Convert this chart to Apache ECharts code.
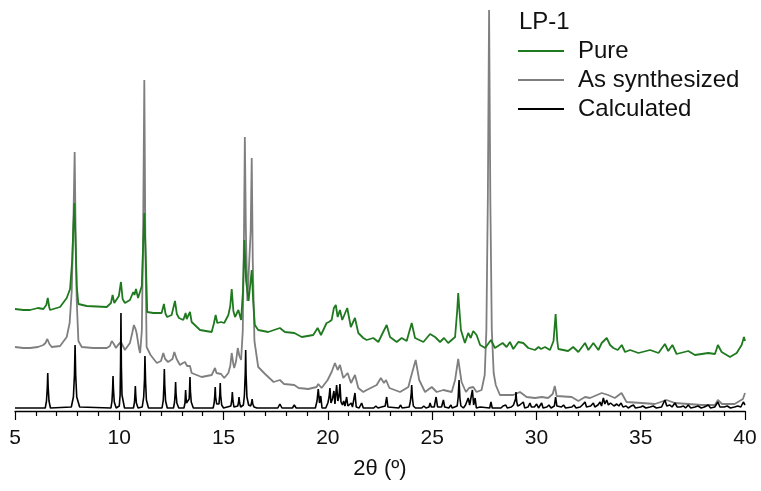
<!DOCTYPE html>
<html>
<head>
<meta charset="utf-8">
<title>LP-1 PXRD</title>
<script src="https://cdn.jsdelivr.net/npm/echarts@6/dist/echarts.min.js"></script>
<style>
  html, body { margin: 0; padding: 0; background: #fff; }
  #chart { width: 761px; height: 491px; }
</style>
</head>
<body>
<div id="chart"></div>
<script>
// 2theta (deg), intensity (arbitrary, offset stacked)
const xTicks = [5, 10, 15, 20, 25, 30, 35, 40]
const seriesNames = ['Pure', 'As synthesized', 'Calculated']

const calculated = [
  [5, 3], [6.45, 3], [6.51, 10], [6.55, 24], [6.57, 38], [6.59, 24], [6.63, 10], [6.7, 3],
  [7.7, 4], [7.8, 14], [7.85, 36], [7.88, 66], [7.91, 36], [7.96, 14], [8.1, 4],
  [9.6, 3], [9.65, 10], [9.68, 22], [9.7, 35], [9.72, 22], [9.76, 9], [9.85, 3],
  [10.0, 5], [10.04, 16], [10.06, 45], [10.08, 98], [10.1, 45], [10.13, 16], [10.25, 3],
  [10.68, 3], [10.73, 9], [10.75, 16], [10.77, 25], [10.79, 16], [10.82, 8], [10.9, 3],
  [11.1, 4], [11.17, 14], [11.21, 32], [11.23, 55], [11.26, 30], [11.3, 11], [11.4, 3],
  [12.05, 3], [12.11, 11], [12.14, 26], [12.16, 42], [12.18, 26], [12.22, 10], [12.3, 3],
  [12.6, 3], [12.65, 9], [12.68, 18], [12.7, 29], [12.72, 18], [12.76, 8], [12.85, 3],
  [13.1, 3], [13.15, 8], [13.18, 21], [13.22, 8], [13.3, 7], [13.35, 12], [13.37, 22], [13.39, 34], [13.41, 20], [13.45, 9], [13.55, 3],
  [14.5, 3], [14.55, 8], [14.58, 16], [14.6, 24], [14.62, 14], [14.67, 7], [14.78, 7], [14.82, 17], [14.84, 28], [14.86, 16], [14.91, 6], [15.0, 3],
  [15.35, 5], [15.4, 12], [15.42, 19], [15.45, 10], [15.5, 4], [15.68, 5], [15.72, 9], [15.74, 14], [15.77, 8], [15.82, 4],
  [15.95, 6], [16.0, 16], [16.04, 38], [16.06, 61], [16.08, 36], [16.12, 14], [16.2, 6], [16.3, 5], [16.35, 9], [16.37, 12], [16.4, 7], [16.46, 4], [16.6, 3],
  [17.6, 3], [17.7, 7], [17.8, 3], [18.3, 3], [18.39, 6], [18.48, 3],
  [19.4, 3], [19.48, 10], [19.54, 22], [19.6, 8], [19.66, 15], [19.72, 3],
  [19.9, 3], [20.0, 8], [20.06, 14], [20.1, 23], [20.15, 8], [20.22, 12], [20.29, 20], [20.34, 7],
  [20.42, 26], [20.48, 10], [20.53, 14], [20.58, 27], [20.63, 9], [20.7, 6], [20.76, 10], [20.82, 5],
  [20.9, 14], [20.96, 5], [21.05, 4], [21.12, 8], [21.18, 4], [21.3, 18], [21.36, 4], [21.5, 3], [21.62, 8], [21.7, 3],
  [22.2, 3], [22.3, 5], [22.4, 3], [22.75, 5], [22.82, 14], [22.88, 4],
  [23.4, 3], [23.49, 6], [23.56, 3], [23.9, 4], [23.96, 10], [24.0, 18], [24.02, 26], [24.05, 14], [24.1, 5], [24.2, 3],
  [24.5, 3], [24.6, 5], [24.7, 3], [24.85, 4], [24.9, 8], [24.96, 4], [25.1, 4], [25.19, 14], [25.26, 4],
  [25.45, 4], [25.54, 11], [25.6, 4], [25.8, 3], [25.9, 6], [25.96, 3],
  [26.2, 5], [26.25, 14], [26.29, 31], [26.33, 13], [26.38, 5], [26.5, 3], [26.6, 6], [26.66, 4], [26.73, 13], [26.8, 6], [26.88, 8],
  [26.93, 21], [26.99, 6], [27.06, 13], [27.12, 3], [27.3, 4], [27.38, 3],
  [27.76, 3], [27.82, 9], [27.88, 3], [28.3, 3], [28.4, 5], [28.46, 3], [28.53, 6], [28.6, 3],
  [28.8, 4], [28.9, 6], [28.96, 5], [29.0, 12], [29.02, 19], [29.05, 10], [29.1, 5], [29.2, 6], [29.28, 4], [29.37, 9], [29.44, 3],
  [29.6, 4], [29.69, 8], [29.76, 4], [29.9, 4], [30.01, 7], [30.1, 3], [30.25, 8], [30.32, 3], [30.5, 4], [30.6, 6], [30.7, 3],
  [30.86, 5], [30.92, 14], [30.98, 5], [31.2, 4], [31.3, 6], [31.4, 3], [31.7, 4], [31.8, 6], [31.9, 3],
  [32.1, 4], [32.2, 6], [32.33, 9], [32.4, 4], [32.6, 5], [32.73, 8], [32.8, 4], [32.95, 6], [33.05, 9],
  [33.12, 5], [33.21, 13], [33.28, 7], [33.37, 11], [33.45, 6], [33.55, 8], [33.64, 10], [33.72, 5],
  [33.85, 7], [33.95, 5], [34.06, 8], [34.15, 4], [34.3, 5], [34.4, 3], [34.55, 5], [34.65, 6], [34.75, 3],
  [35.0, 4], [35.1, 5], [35.25, 3], [35.45, 4], [35.6, 5], [35.75, 3], [36.0, 4], [36.16, 11], [36.25, 5],
  [36.4, 6], [36.5, 4], [36.64, 8], [36.75, 4], [36.9, 4], [37.05, 5], [37.15, 3], [37.28, 6], [37.4, 3],
  [37.6, 4], [37.75, 5], [37.9, 3], [38.05, 4], [38.24, 6], [38.35, 3], [38.55, 4], [38.7, 9], [38.8, 4],
  [39.0, 4], [39.15, 5], [39.3, 3], [39.5, 4], [39.65, 5], [39.8, 4], [39.92, 9], [40, 6]
]

const asSynthesized = [
  [5, 64], [5.4, 63], [5.72, 63], [6.1, 64], [6.36, 66], [6.46, 68], [6.55, 72], [6.65, 67], [6.76, 64], [7.16, 65],
  [7.48, 74], [7.62, 88], [7.72, 120], [7.8, 190], [7.86, 259], [7.9, 190], [7.96, 110], [8.04, 70], [8.2, 64], [8.75, 63],
  [9.4, 63], [9.55, 65], [9.64, 70], [9.74, 67], [9.84, 63], [9.94, 66], [10.08, 69], [10.27, 61],
  [10.51, 68], [10.62, 78], [10.7, 86], [10.78, 82], [10.83, 78], [10.95, 62], [11.0, 58], [11.08, 80],
  [11.14, 170], [11.2, 331], [11.25, 170], [11.31, 64], [11.5, 56], [11.8, 48], [12.0, 50], [12.11, 58],
  [12.2, 52], [12.34, 49], [12.55, 52], [12.64, 59], [12.75, 52], [12.91, 46], [13.05, 48], [13.15, 49],
  [13.25, 45], [13.31, 44], [13.39, 45], [13.47, 38], [13.95, 34], [14.43, 36], [14.52, 38], [14.59, 43],
  [14.66, 38], [14.75, 36], [14.88, 37], [15.03, 33], [15.23, 38], [15.32, 45], [15.39, 58], [15.46, 48],
  [15.51, 43], [15.6, 50], [15.68, 63], [15.76, 55], [15.84, 51], [15.92, 80], [15.98, 180], [16.02, 274],
  [16.07, 180], [16.14, 110], [16.22, 110], [16.3, 180], [16.35, 253], [16.4, 150], [16.48, 70], [16.66, 44],
  [16.99, 37], [17.4, 29], [17.7, 31], [17.9, 27], [18.39, 26], [18.6, 23], [19.06, 22], [19.46, 24],
  [19.54, 27], [19.7, 23], [19.99, 31], [20.18, 39], [20.34, 48], [20.47, 41], [20.58, 46], [20.74, 33],
  [20.95, 38], [21.11, 28], [21.3, 36], [21.46, 23], [21.7, 19], [21.86, 21], [22.34, 26], [22.54, 33],
  [22.69, 28], [22.79, 31], [22.95, 23], [23.46, 19], [23.86, 24], [23.97, 33], [24.21, 51], [24.38, 31],
  [24.66, 19], [24.98, 24], [25.22, 19], [25.54, 21], [25.94, 19], [26.1, 31], [26.25, 52], [26.41, 29],
  [26.62, 19], [26.77, 23], [26.97, 24], [27.13, 19], [27.37, 21], [27.52, 36], [27.6, 81], [27.67, 211],
  [27.73, 401], [27.79, 211], [27.86, 81], [27.95, 38], [28.05, 26], [28.25, 16], [28.89, 16], [29.21, 19],
  [29.53, 14], [29.93, 13], [30.25, 14], [30.56, 13], [30.78, 17], [30.88, 25], [30.97, 15], [31.02, 13],
  [31.69, 14], [32.01, 10], [32.33, 14], [32.57, 13], [33.13, 18], [33.44, 16], [33.76, 13], [34.08, 18],
  [34.32, 9], [35.04, 8], [35.68, 7], [36.24, 11], [36.64, 8], [37.28, 7], [37.92, 6], [38.56, 6],
  [38.7, 11], [38.9, 7], [39.5, 7], [39.9, 12], [40, 18]
]

const pure = [
  [5, 102], [5.4, 101], [5.72, 101], [6.1, 103], [6.36, 102], [6.5, 106], [6.57, 113], [6.64, 104], [6.68, 101], [7.16, 104],
  [7.48, 113], [7.64, 122], [7.74, 150], [7.8, 185], [7.85, 208], [7.9, 170], [7.96, 125], [8.04, 107], [8.44, 105], [9.4, 104],
  [9.6, 108], [9.68, 116], [9.76, 108], [9.84, 106], [9.98, 115], [10.08, 129], [10.16, 112], [10.27, 108],
  [10.51, 111], [10.67, 119], [10.73, 116], [10.8, 122], [10.9, 113], [10.96, 111], [11.08, 125],
  [11.15, 170], [11.2, 198], [11.26, 160], [11.34, 99], [11.63, 98], [12.03, 98], [12.14, 107], [12.22, 97],
  [12.3, 94], [12.51, 96], [12.67, 110], [12.76, 97], [12.86, 93], [13.07, 91], [13.18, 98], [13.23, 92],
  [13.28, 91], [13.39, 99], [13.47, 89], [13.87, 81], [14.43, 79], [14.53, 87], [14.62, 96], [14.7, 88],
  [14.75, 88], [14.88, 89], [15.03, 88], [15.23, 96], [15.32, 105], [15.39, 122], [15.47, 100], [15.55, 94],
  [15.71, 101], [15.84, 91], [15.93, 120], [16.0, 171], [16.08, 130], [16.2, 110], [16.27, 111], [16.35, 141],
  [16.42, 110], [16.5, 86], [16.66, 81], [17.14, 79], [17.7, 83], [17.94, 79], [18.39, 78], [18.75, 74],
  [19.3, 76], [19.51, 83], [19.67, 76], [19.94, 88], [20.05, 89], [20.18, 91], [20.29, 103], [20.38, 106],
  [20.47, 94], [20.58, 101], [20.69, 91], [20.93, 103], [21.1, 84], [21.3, 93], [21.46, 78], [21.7, 73],
  [21.86, 71], [22.18, 73], [22.42, 69], [22.63, 78], [22.82, 86], [22.98, 74], [23.3, 69], [23.54, 73],
  [23.78, 70], [24.02, 88], [24.18, 73], [24.58, 69], [24.9, 77], [25.14, 74], [25.38, 69], [25.57, 73],
  [25.77, 68], [26.1, 74], [26.2, 100], [26.25, 118], [26.31, 100], [26.38, 81], [26.57, 68], [26.73, 78],
  [26.85, 73], [26.97, 80], [27.13, 76], [27.3, 66], [27.54, 63], [27.82, 71], [28.01, 63], [28.38, 68],
  [28.57, 64], [28.73, 69], [28.89, 62], [29.13, 69], [29.37, 68], [29.61, 63], [29.93, 61], [30.1, 64],
  [30.22, 62], [30.41, 64], [30.65, 61], [30.82, 70], [30.92, 97], [31.0, 70], [31.05, 62], [31.52, 60],
  [31.76, 64], [32.01, 59], [32.33, 68], [32.49, 61], [32.73, 68], [32.97, 61], [33.13, 68], [33.37, 73],
  [33.53, 66], [33.69, 63], [33.9, 61], [34.09, 66], [34.25, 59], [34.49, 61], [34.89, 58], [35.45, 61],
  [35.85, 58], [36.16, 67], [36.32, 60], [36.52, 66], [36.72, 57], [37.28, 60], [37.6, 56], [38.24, 58],
  [38.56, 57], [38.7, 66], [38.88, 59], [39.28, 54], [39.6, 58], [39.84, 66], [39.95, 74], [40, 70]
]

const chart = echarts.init(document.getElementById('chart'))
const font = 'Liberation Sans, Arial, sans-serif'

const option = {
  animation: false,
  backgroundColor: '#fff',
  textStyle: { fontFamily: font },
  title: {
    text: 'LP-1',
    left: 514,
    top: 5,
    textStyle: { fontFamily: font, fontSize: 24, fontWeight: 'normal', color: '#111' }
  },
  legend: {
    data: seriesNames,
    orient: 'vertical',
    left: 512,
    top: 34,
    itemWidth: 46,
    itemHeight: 14,
    itemGap: 5,
    itemStyle: { opacity: 0 },
    textStyle: { fontFamily: font, fontSize: 24, color: '#111', padding: [0, 0, 0, 9] }
  },
  grid: { left: 15, right: 16, top: 10, bottom: 80 },
  xAxis: {
    type: 'value',
    min: 5,
    max: 40,
    interval: 5,
    name: '2θ (º)',
    nameLocation: 'middle',
    nameGap: 47,
    nameTextStyle: { fontFamily: font, fontSize: 22, color: '#111' },
    axisLine: { onZero: false, lineStyle: { color: '#000', width: 1.3 } },
    axisTick: { show: true, length: 9, lineStyle: { color: '#000', width: 1.2 } },
    minorTick: { show: true, splitNumber: 5, length: 5, lineStyle: { color: '#000', width: 1.2 } },
    axisLabel: {
      margin: 17,
      fontFamily: font,
      fontSize: 21,
      color: '#111',
      formatter: function (v) {
        return xTicks.indexOf(v) >= 0 ? String(v) : ''
      }
    },
    splitLine: { show: false }
  },
  yAxis: {
    type: 'value',
    min: 0,
    max: 401,
    show: false
  },
  series: [
    {
      name: 'Calculated',
      type: 'line',
      symbol: 'none',
      z: 3,
      color: '#000',
      lineStyle: { color: '#000', width: 1.6 },
      data: calculated
    },
    {
      name: 'As synthesized',
      type: 'line',
      symbol: 'none',
      z: 2,
      color: '#7f7f7f',
      lineStyle: { color: '#7f7f7f', width: 1.8 },
      data: asSynthesized
    },
    {
      name: 'Pure',
      type: 'line',
      symbol: 'none',
      z: 4,
      color: '#1f7a1f',
      lineStyle: { color: '#1f7a1f', width: 1.8 },
      data: pure
    }
  ]
}

chart.setOption(option)
</script>
</body>
</html>
